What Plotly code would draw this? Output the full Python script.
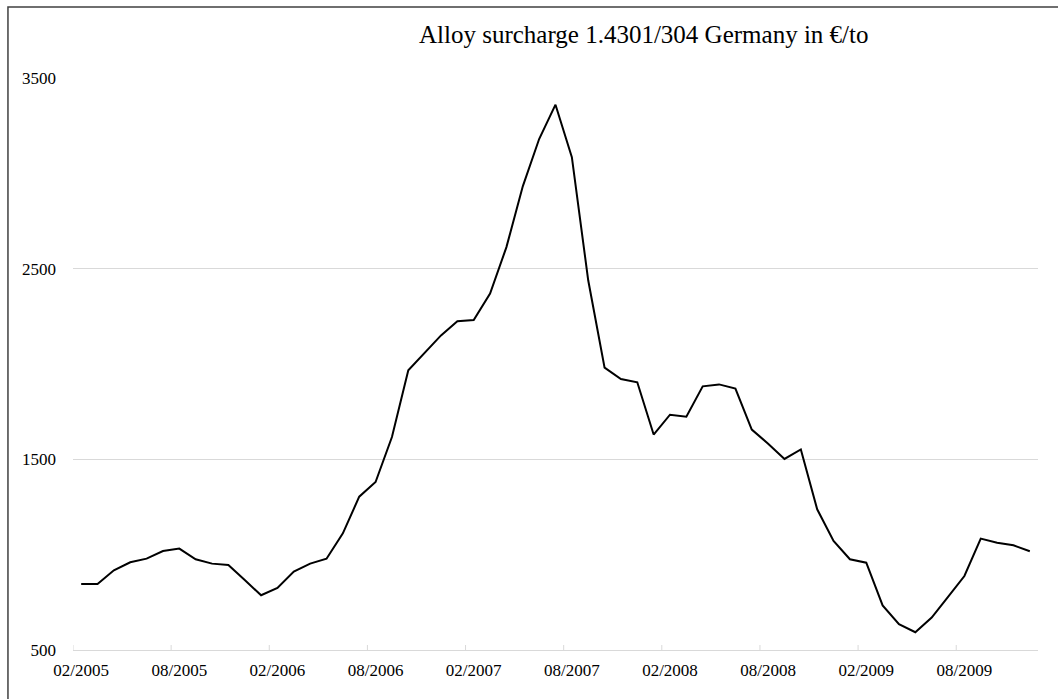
import plotly.graph_objects as go

# Monthly alloy surcharge for grade 1.4301/304 in Germany (EUR per tonne), 02/2005 - 12/2009
months = [f"{m:02d}/{y}" for y in range(2005, 2010) for m in range(1, 13)][1:]
surcharge = [846, 846, 918, 960, 979, 1019, 1032, 976, 953, 946, 867, 787,
             825, 911, 953, 979, 1112, 1304, 1381, 1617, 1967, 2059, 2150, 2224,
             2231, 2369, 2613, 2932, 3180, 3360, 3085, 2439, 1981, 1921, 1904, 1630,
             1734, 1724, 1883, 1893, 1871, 1656, 1582, 1502, 1552, 1238, 1072, 976,
             958, 734, 635, 593, 670, 778, 888, 1084, 1063, 1049, 1018]
y_ticks = [500, 1500, 2500, 3500]
label_step = 6

x_idx = list(range(len(months)))
tick_idx = x_idx[::label_step]
tick_text = [months[i] for i in tick_idx]

FONT = "Liberation Serif, Times New Roman, serif"
GRID = "#d9d9d9"

fig = go.Figure(
    go.Scatter(x=x_idx, y=surcharge, mode="lines",
               line=dict(color="#000000", width=2), hoverinfo="skip")
)

# tick marks crossing the category axis at the category boundaries
shapes = [
    dict(type="line", xref="x", yref="y", ysizemode="pixel", yanchor=y_ticks[0],
         x0=i - 0.5, x1=i - 0.5, y0=-5, y1=5, line=dict(color=GRID, width=1))
    for i in tick_idx
]
# chart-area frame
shapes.append(dict(type="rect", xref="paper", yref="paper",
                   x0=-0.0674, x1=1.2, y0=-0.2, y1=1.1241,
                   line=dict(color="#404040", width=1.5), layer="above"))

fig.update_layout(
    width=1058, height=699,
    margin=dict(l=73, r=20, t=78, b=49),
    paper_bgcolor="white", plot_bgcolor="white",
    showlegend=False,
    font=dict(family=FONT, size=17, color="#000000"),
    shapes=shapes,
    annotations=[dict(text="Alloy surcharge 1.4301/304 Germany in €/to",
                      xref="paper", yref="paper", x=0.5907, y=1.0769,
                      xanchor="center", yanchor="middle", showarrow=False,
                      font=dict(family=FONT, size=25, color="#000000"))],
)

fig.update_xaxes(
    range=[-0.5, len(months) - 0.5],
    tickmode="array", tickvals=tick_idx, ticktext=tick_text,
    showgrid=False, zeroline=False,
    showline=True, linecolor=GRID, linewidth=1,
    ticks="", ticklabelstandoff=5,
)
fig.update_yaxes(
    range=[y_ticks[0], y_ticks[-1]],
    tickmode="array", tickvals=y_ticks,
    showgrid=True, gridcolor=GRID, gridwidth=1,
    zeroline=False, showline=False,
    ticks="", ticklabelstandoff=16,
)

fig.write_html("out.html")
